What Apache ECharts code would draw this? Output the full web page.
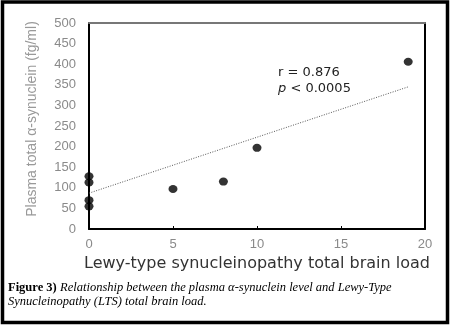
<!DOCTYPE html>
<html><head><meta charset="utf-8">
<script src="https://cdn.jsdelivr.net/npm/echarts@6/dist/echarts.min.js"></script>
<style>html,body{margin:0;padding:0;background:#fff}#c{width:452px;height:327px}</style>
</head><body><div id="c"></div>
<script>
const ltsLoad = [0, 0, 0, 0, 5, 8, 10, 19];
const plasmaSyn = [128, 113, 70, 55, 97, 115, 197, 406];
const trendX = [0, 19];
const trendY = [87, 345];
const xTicks = [0, 5, 10, 15, 20];
const yTicks = [0, 50, 100, 150, 200, 250, 300, 350, 400, 450, 500];

const points = ltsLoad.map((x, i) => [x, plasmaSyn[i]]);
const trend = trendX.map((x, i) => [x, trendY[i]]);
const font = '"Liberation Sans", sans-serif';

const chart = echarts.init(document.getElementById('c'), null, {renderer: 'canvas'});
chart.setOption({
  animation: false,
  backgroundColor: '#fff',
  grid: {left: 89, right: 27, top: 23, bottom: 98},
  xAxis: [{
    type: 'value', min: xTicks[0], max: xTicks[xTicks.length - 1], interval: 5,
    axisLine: {lineStyle: {color: '#000', width: 2}},
    axisTick: {show: true, inside: true, length: 3, lineStyle: {color: '#000'}},
    splitLine: {show: false},
    axisLabel: {color: '#8a8a8a', fontFamily: font, fontSize: 13, margin: 9},
    name: 'Lewy-type synucleinopathy total brain load',
    nameLocation: 'middle', nameGap: 27,
    nameTextStyle: {color: '#333', fontFamily: '"DejaVu Sans", sans-serif', fontSize: 16}
  }, {
    type: 'value', position: 'top', min: 0, max: 20,
    axisLine: {show: true, onZero: false, lineStyle: {color: '#777', width: 2}},
    axisTick: {show: false}, axisLabel: {show: false}, splitLine: {show: false}
  }],
  yAxis: [{
    type: 'value', min: yTicks[0], max: yTicks[yTicks.length - 1], interval: 50,
    axisLine: {show: true, lineStyle: {color: '#000', width: 2}},
    axisTick: {show: false},
    splitLine: {show: false},
    axisLabel: {color: '#8a8a8a', fontFamily: font, fontSize: 13, margin: 13},
    name: 'Plasma total α-synuclein (fg/ml)',
    nameLocation: 'middle', nameGap: 50, nameRotate: 90,
    nameTextStyle: {color: '#999', fontFamily: font, fontSize: 14, padding: [0, 0, 0, 14]}
  }, {
    type: 'value', position: 'right', min: 0, max: 500,
    axisLine: {show: true, onZero: false, lineStyle: {color: '#000', width: 2}},
    axisTick: {show: false}, axisLabel: {show: false}, splitLine: {show: false}
  }],
  series: [{
    type: 'line', data: trend, symbol: 'none',
    lineStyle: {color: '#555', width: 1, type: [1, 1.5]}
  }, {
    type: 'scatter', data: points, symbol: 'circle', symbolSize: [9, 8],
    itemStyle: {color: '#000'}
  }],
  graphic: [
    {type: 'rect', shape: {x: 2.5, y: 2, width: 445, height: 320.5}, style: {fill: 'none', stroke: '#000', lineWidth: 3.5}},
    {type: 'text', left: 278, top: 66, style: {text: 'r = 0.876', font: '13px "DejaVu Sans"', fill: '#222'}},
    {type: 'text', left: 278, top: 82, style: {text: '{i|p} < 0.0005', font: '13px "DejaVu Sans"', fill: '#222', rich: {i: {fontStyle: 'italic', fontFamily: 'DejaVu Sans', fontSize: 13, fill: '#222'}}}},
    {type: 'text', left: 8, top: 281, style: {text: '{b|Figure 3)} {i|Relationship between the plasma α-synuclein level and Lewy-Type}', rich: {b: {fontWeight: 'bold', fontFamily: '"Liberation Serif", serif', fontSize: 12.5, fill: '#000'}, i: {fontStyle: 'italic', fontFamily: '"Liberation Serif", serif', fontSize: 12.5, fill: '#000'}}}},
    {type: 'text', left: 8, top: 295, style: {text: 'Synucleinopathy (LTS) total brain load.', font: 'italic 12.5px "Liberation Serif"', fill: '#000'}}
  ]
});
</script></body></html>
